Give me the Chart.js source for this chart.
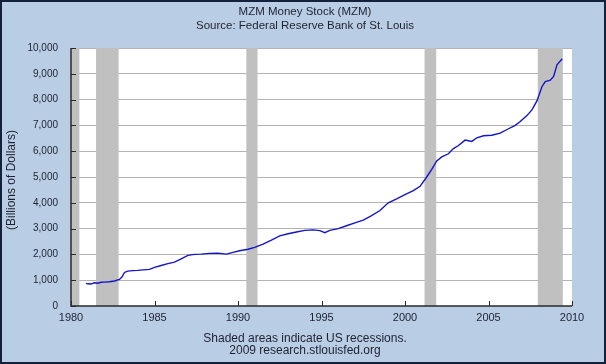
<!DOCTYPE html>
<html><head><meta charset="utf-8">
<script src="https://cdn.jsdelivr.net/npm/chart.js@4.4.1/dist/chart.umd.min.js"></script>
<style>html,body{margin:0;padding:0;background:#B9CDE4;}canvas{display:block;}</style>
</head><body>
<canvas id="c" width="606" height="364"></canvas>
<script>
const titleLines = ['MZM Money Stock (MZM)', 'Source: Federal Reserve Bank of St. Louis'];
const yAxisTitle = '(Billions of Dollars)';
const footerLines = ['Shaded areas indicate US recessions.', '2009 research.stlouisfed.org'];

const years = [1980.9,1981.0,1981.2,1981.4,1981.6,1981.8,1982.0,1982.3,1982.6,1982.9,1983.05,1983.2,1983.4,1983.7,1984.0,1984.3,1984.7,1985.0,1985.4,1985.8,1986.2,1986.6,1987.0,1987.4,1987.8,1988.3,1988.8,1989.3,1989.7,1990.1,1990.6,1991.0,1991.5,1992.0,1992.5,1993.0,1993.5,1994.0,1994.5,1994.9,1995.2,1995.5,1996.0,1996.5,1997.0,1997.5,1998.0,1998.5,1999.0,1999.5,2000.0,2000.5,2000.9,2001.3,2001.6,2001.9,2002.2,2002.6,2002.9,2003.2,2003.6,2004.0,2004.3,2004.7,2005.2,2005.7,2006.2,2006.6,2006.9,2007.3,2007.6,2007.9,2008.2,2008.4,2008.7,2008.9,2009.1,2009.3,2009.42];
const mzm   = [880,860,850,900,885,920,925,940,970,1030,1120,1300,1350,1370,1380,1400,1420,1500,1570,1640,1700,1830,1960,2000,2010,2040,2050,2010,2080,2140,2200,2270,2400,2550,2720,2800,2870,2930,2950,2920,2840,2930,3000,3110,3220,3330,3500,3700,4000,4150,4320,4470,4640,5000,5300,5620,5780,5900,6100,6220,6430,6380,6520,6600,6620,6700,6870,7000,7150,7380,7600,7950,8500,8700,8750,8900,9350,9500,9580];

const recessionStart = [1980.0, 1981.5, 1990.5, 2001.17, 2007.95];
const recessionEnd   = [1980.5, 1982.85, 1991.17, 2001.87, 2009.45];

const xTickValues = [1980, 1985, 1990, 1995, 2000, 2005, 2010];
const yTickValues = [0, 1000, 2000, 3000, 4000, 5000, 6000, 7000, 8000, 9000, 10000];

const BG = '#B9CDE4', TXT = '#1E2230', GRID = '#B4B4B4', BAND = '#C0C0C0', AXIS = '#2A2A2A';
const FONT = '"Liberation Sans", Arial, sans-serif';

const decor = {
  id: 'decor',
  beforeDraw(chart) {
    const {ctx, chartArea: a} = chart;
    ctx.save();
    ctx.fillStyle = BG; ctx.fillRect(0, 0, chart.width, chart.height);
    ctx.fillStyle = '#FFFFFF'; ctx.fillRect(a.left, a.top, a.right - a.left, a.bottom - a.top);
    ctx.restore();
  },
  beforeDatasetsDraw(chart) {
    const {ctx, chartArea: a, scales: {x}} = chart;
    ctx.save();
    ctx.fillStyle = BAND;
    recessionStart.forEach((s, i) => {
      const x0 = Math.max(a.left, x.getPixelForValue(s));
      const x1 = Math.min(a.right, x.getPixelForValue(recessionEnd[i]));
      ctx.fillRect(x0, a.top, x1 - x0, a.bottom - a.top);
    });
    ctx.restore();
  },
  afterDatasetsDraw(chart) {
    const {ctx, chartArea: a, scales: {x, y}} = chart;
    ctx.save();
    ctx.strokeStyle = AXIS; ctx.lineWidth = 1.5;
    ctx.beginPath();
    ctx.moveTo(a.left, a.top); ctx.lineTo(a.left, a.bottom); ctx.lineTo(a.right, a.bottom);
    ctx.stroke();
    ctx.lineWidth = 1;
    ctx.beginPath();
    yTickValues.forEach(v => { const py = Math.round(y.getPixelForValue(v)) + 0.5; ctx.moveTo(a.left, py); ctx.lineTo(a.left + 5, py); });
    xTickValues.forEach(v => { const px = Math.round(x.getPixelForValue(v)) + 0.5; ctx.moveTo(px, a.bottom); ctx.lineTo(px, a.bottom - 5); });
    ctx.stroke();
    ctx.restore();
  },
  afterDraw(chart) {
    const {ctx, chartArea: a} = chart;
    ctx.save();
    ctx.fillStyle = TXT; ctx.textAlign = 'center'; ctx.textBaseline = 'middle';
    ctx.font = '11.5px ' + FONT;
    ctx.fillText(titleLines[0], 305, 12);
    ctx.fillText(titleLines[1], 305, 25.5);
    ctx.font = '12px ' + FONT;
    ctx.fillText(footerLines[0], 305, 338.5);
    ctx.fillText(footerLines[1], 305, 351);
    ctx.translate(12, 180); ctx.rotate(-Math.PI / 2);
    ctx.fillText(yAxisTitle, 0, 0);
    ctx.restore();
    ctx.save();
    ctx.strokeStyle = '#13223A'; ctx.lineWidth = 2;
    ctx.strokeRect(1, 1, chart.width - 2, chart.height - 2);
    ctx.restore();
  }
};

new Chart(document.getElementById('c'), {
  type: 'line',
  data: {
    datasets: [{
      data: years.map((yr, i) => ({x: yr, y: mzm[i]})),
      borderColor: '#1414C8', borderWidth: 1.4, pointRadius: 0, tension: 0, fill: false
    }]
  },
  options: {
    responsive: false, animation: false, devicePixelRatio: 1,
    layout: {padding: {top: 48, right: 34, bottom: 0, left: 0}},
    plugins: {legend: {display: false}, title: {display: false}, tooltip: {enabled: false}},
    scales: {
      x: {
        type: 'linear', min: 1980, max: 2010,
        afterFit: s => { s.height = 58; },
        afterBuildTicks: s => { s.ticks = xTickValues.map(v => ({value: v})); },
        ticks: {callback: v => String(v), color: TXT, font: {family: FONT, size: 11}, padding: 5, maxRotation: 0, autoSkip: false},
        grid: {display: false, drawTicks: false},
        border: {display: false}
      },
      y: {
        min: 0, max: 10000,
        afterFit: s => { s.width = 71; },
        afterBuildTicks: s => { s.ticks = yTickValues.map(v => ({value: v})); },
        ticks: {callback: v => v.toLocaleString('en-US'), color: TXT, font: {family: FONT, size: 10}, padding: 13, autoSkip: false},
        grid: {color: GRID, drawTicks: false, lineWidth: c => (c.tick && c.tick.value === 0 ? 0 : 1)},
        border: {display: false}
      }
    }
  },
  plugins: [decor]
});
</script>
</body></html>
